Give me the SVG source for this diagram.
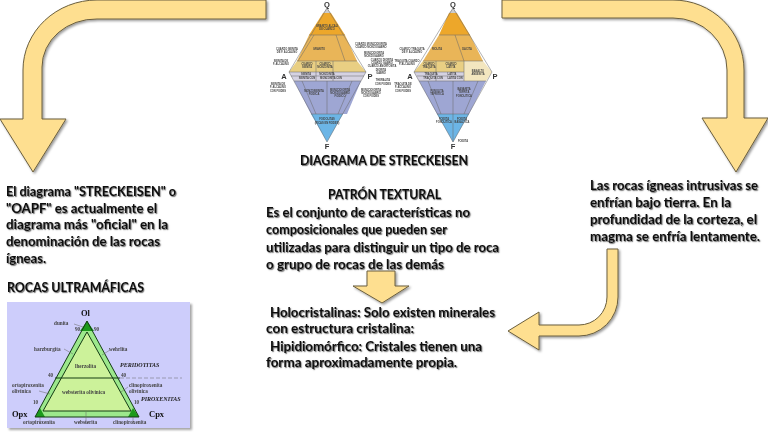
<svg xmlns="http://www.w3.org/2000/svg" width="768" height="433" viewBox="0 0 768 433">
<defs>
<filter id="sh" x="-10%" y="-10%" width="125%" height="125%"><feDropShadow dx="1.5" dy="1.5" stdDeviation="1" flood-color="#000" flood-opacity=".4"/></filter>
<filter id="soft" x="-5%" y="-5%" width="110%" height="110%"><feGaussianBlur stdDeviation=".45"/></filter>
<filter id="txt" x="-5%" y="-5%" width="110%" height="110%"><feGaussianBlur stdDeviation=".3"/></filter>
<filter id="ps" x="-5%" y="-5%" width="110%" height="110%"><feDropShadow dx="2" dy="2" stdDeviation="1" flood-color="#000" flood-opacity=".35"/></filter>
</defs>
<style>
.arrow{fill:#fedf90;stroke:#6b5f3e;stroke-width:1;filter:url(#sh)}
.t{font-family:"Lato","Liberation Sans",sans-serif;font-size:14px;font-weight:700;fill:#111;text-shadow:1px 1px 1.2px #666}
.r{font-size:13px}
.s{font-family:"Liberation Sans",sans-serif;font-size:2.6px;font-weight:700;fill:#444;text-anchor:middle}
.v{font-family:"Liberation Serif",serif;font-size:5.2px;font-weight:700;fill:#444}
.vi{font-family:"Liberation Serif",serif;font-size:6px;font-style:italic;font-weight:700;fill:#222}
.vb{font-family:"Liberation Serif",serif;font-size:8.5px;font-weight:700;fill:#111}
.q{font-family:"Liberation Sans",sans-serif;font-size:7.5px;font-weight:700;fill:#333;text-anchor:middle}
.l{stroke:#666;stroke-width:.5;fill:none}
.ol{stroke:#143c14;stroke-width:1;fill:none}
</style>
<g id="connectors">
<path id="arrow-left" class="arrow" d="M266 0V19H97A54 48 0 0 0 42 67V119H66L33 172L0 119H23V70A74 70 0 0 1 97 0Z"/>
<path id="arrow-right" class="arrow" d="M502 0V18H673A54 52 0 0 1 727 70V118H702L736 172L768 118H744V70A71 70 0 0 0 673 0Z"/>
<path id="arrow-bottom" class="arrow" d="M607 249H618V297A39 39 0 0 1 579 336H539V350L508 331L539 312V325H579A28 28 0 0 0 607 297Z"/>
<path id="arrow-mid" class="arrow" d="M367 271H395V286H409L382 303L353 286H367Z"/>
</g>
<g id="streckeisen" filter="url(#soft)">
<g id="diagram-a">
<path d="M327 8L323 13H331Z" fill="#ccc"/>
<path d="M323 13H331L345 35H309Z" fill="#eda72c"/>
<path d="M309 35H345L357 61H297Z" fill="#e9b558"/>
<path d="M297 61H357L366 72H289Z" fill="#e9cf83"/>
<path d="M289 72H366L361 81H294Z" fill="#d5d2e2"/>
<path d="M294 81H361L347 114H311Z" fill="#9ea6d3"/>
<path d="M311 114H343L327 142Z" fill="#6cb5e6"/>
<path class="l" d="M309 35H345M297 61H357M289 72H366M291 76H364M294 81H361M311 114H343M314 35L298 61M336 35L345 61M316 61V81M333 61V81M327 81V114M302 81L316 114M352 81L338 114"/>
<path class="l" d="M327 8L366 72L327 142L289 72Z"/>
<text class="s" x="327" y="27">GRANITO ALCALI</text><text class="s" x="327" y="30">DE CUARZO</text>
<text class="s" x="319" y="50">GRANITO</text>
<text class="s" x="307" y="65">CUARZO</text><text class="s" x="307" y="68">SIENITA</text>
<text class="s" x="325" y="65">CUARZO</text><text class="s" x="325" y="68">MONZONITA</text>
<text class="s" x="306" y="74.800">SIENITA</text><text class="s" x="327" y="74.800">MONZONITA</text>
<text class="s" x="307" y="79">SIENITA CON</text><text class="s" x="331" y="79">MONZONITA CON</text>
<text class="s" x="314" y="92">MONZOSIENITA</text><text class="s" x="314" y="95">FOIDICA</text>
<text class="s" x="340" y="91">MONZODIORITA</text><text class="s" x="340" y="94">MONZOGABRO</text><text class="s" x="340" y="97">FOIDICO</text>
<text class="s" x="327" y="120">FOIDOLITAS</text><text class="s" x="327" y="124">(RICAS EN FOIDES)</text>
<text class="s" x="287" y="50">CUARZO SIENITA</text><text class="s" x="287" y="53">DE F. ALCALINO</text>
<text class="s" x="281" y="62">SIENITA DE</text><text class="s" x="281" y="65">F. ALCALINO</text>
<text class="s" x="278" y="85">SIENITA DE</text><text class="s" x="278" y="88">F. ALCALINO</text><text class="s" x="278" y="92">CON FOIDES</text>
<text class="s" x="371" y="45">CUARZO MONZODIORITA</text><text class="s" x="371" y="48">CUARZO MONZOGABRO</text>
<text class="s" x="374" y="54">MONZODIORITA</text><text class="s" x="374" y="57">MONZOGABRO</text>
<text class="s" x="382" y="61">CUARZO DIORITA</text><text class="s" x="382" y="64">CUARZO GABRO</text><text class="s" x="382" y="67">CUARZO ANORTOSITA</text>
<text class="s" x="381" y="70.500">DIORITA</text><text class="s" x="381" y="73.500">GABRO</text>
<text class="s" x="383" y="81">THERALITA</text><text class="s" x="383" y="84.500">CON FOIDES</text>
<text class="s" x="371" y="91">MONZODIORITA</text><text class="s" x="371" y="94">MONZOGABRO</text><text class="s" x="371" y="97">CON FOIDES</text>
<text class="q" x="327" y="7">Q</text><text class="q" x="284" y="79">A</text><text class="q" x="370" y="79">P</text><text class="q" x="327" y="149">F</text>
</g>
<g id="diagram-b">
<path d="M453 8L449 13H457Z" fill="#ccc"/>
<path d="M449 13H457L470 35H439Z" fill="#eda72c"/>
<path d="M439 35H470L483 61H423Z" fill="#e9b558"/>
<path d="M423 61H464V72H414Z" fill="#e9cf83"/>
<path d="M464 61H483L492 72L486 81H464Z" fill="#f3e6bf"/>
<path d="M414 72H464V81H419Z" fill="#d5d2e2"/>
<path d="M419 81H486L469 114H437Z" fill="#9ea6d3"/>
<path d="M437 114H469L453 142Z" fill="#6cb5e6"/>
<path class="l" d="M439 35H470M423 61H483M414 72H464M417 76H464M419 81H486M437 114H469M455 35L464 61M436 61V81M464 61V81M453 81V114M428 81L441 114M478 81L464 114M453 114V142"/>
<path class="l" d="M453 8L492 72L453 142L414 72Z"/>
<text class="s" x="437" y="50">RIOLITA</text><text class="s" x="467" y="50">DACITA</text>
<text class="s" x="429" y="65">CUARZO</text><text class="s" x="429" y="68">TRAQUITA</text>
<text class="s" x="451" y="65">CUARZO</text><text class="s" x="451" y="68">LATITA</text>
<text class="s" x="478" y="72">BASALTO</text><text class="s" x="478" y="75">ANDESITA</text>
<text class="s" x="431" y="74.800">TRAQUITA</text><text class="s" x="452" y="74.800">LATITA</text>
<text class="s" x="433" y="79">TRAQUITA CON</text><text class="s" x="455" y="79">LATITA CON</text>
<text class="s" x="437" y="92">FONOLITA</text><text class="s" x="437" y="95">TEFRITICA</text>
<text class="s" x="464" y="90">BASANITA</text><text class="s" x="464" y="93">TEFRITA</text><text class="s" x="464" y="97">FONOLITICA</text>
<text class="s" x="444" y="120">FOIDITA</text><text class="s" x="444" y="123">FONOLITICA</text>
<text class="s" x="462" y="120">FOIDITA</text><text class="s" x="462" y="123">BASALTICA</text>
<text class="s" x="412" y="50">CUARZO TRAQUITA</text><text class="s" x="412" y="53">DE F. ALCALINO</text>
<text class="s" x="407" y="62">TRAQUITA CUARZO</text><text class="s" x="407" y="65">F. ALCALINO</text>
<text class="s" x="403" y="85">TRAQUITA DE</text><text class="s" x="403" y="88">F. ALCALINO</text><text class="s" x="403" y="92">CON FOIDES</text>
<text class="s" x="463" y="142">FOIDITA</text>
<text class="q" x="453" y="7">Q</text><text class="q" x="410" y="79">A</text><text class="q" x="495" y="79">P</text><text class="q" x="453" y="149">F</text>
</g>
</g>
<g id="texts" filter="url(#txt)">
<text class="t" x="300" y="165" textLength="168" lengthAdjust="spacingAndGlyphs">DIAGRAMA DE STRECKEISEN</text>
<text class="t" x="328" y="199" textLength="113" lengthAdjust="spacingAndGlyphs">PATRÓN TEXTURAL</text>
<text class="t" x="266" y="217" textLength="204" lengthAdjust="spacingAndGlyphs">Es el conjunto de características no</text>
<text class="t" x="266" y="234" textLength="181" lengthAdjust="spacingAndGlyphs">composicionales que pueden ser</text>
<text class="t" x="266" y="252" textLength="233" lengthAdjust="spacingAndGlyphs">utilizadas para distinguir un tipo de roca</text>
<text class="t" x="266" y="269" textLength="178" lengthAdjust="spacingAndGlyphs">o grupo de rocas de las demás</text>
<text class="t" x="270" y="317" textLength="225" lengthAdjust="spacingAndGlyphs">Holocristalinas: Solo existen minerales</text>
<text class="t" x="266" y="333" textLength="148" lengthAdjust="spacingAndGlyphs">con estructura cristalina:</text>
<text class="t" x="270" y="351" textLength="212" lengthAdjust="spacingAndGlyphs">Hipidiomórfico: Cristales tienen una</text>
<text class="t" x="266" y="367" textLength="191" lengthAdjust="spacingAndGlyphs">forma aproximadamente propia.</text>
<text class="t r" x="590" y="190" textLength="168" lengthAdjust="spacingAndGlyphs">Las rocas ígneas intrusivas se</text>
<text class="t" x="590" y="207" textLength="141" lengthAdjust="spacingAndGlyphs">enfrían bajo tierra. En la</text>
<text class="t" x="590" y="224" textLength="167" lengthAdjust="spacingAndGlyphs">profundidad de la corteza, el</text>
<text class="t" x="590" y="241" textLength="170" lengthAdjust="spacingAndGlyphs">magma se enfría lentamente.</text>
<text class="t" x="6" y="196" textLength="170" lengthAdjust="spacingAndGlyphs">El diagrama "STRECKEISEN" o</text>
<text class="t" x="6" y="213" textLength="151" lengthAdjust="spacingAndGlyphs">"OAPF" es actualmente el</text>
<text class="t" x="6" y="229" textLength="162" lengthAdjust="spacingAndGlyphs">diagrama más "oficial" en la</text>
<text class="t" x="6" y="246" textLength="154" lengthAdjust="spacingAndGlyphs">denominación de las rocas</text>
<text class="t" x="6" y="263" textLength="40" lengthAdjust="spacingAndGlyphs">ígneas.</text>
<text class="t" x="7" y="292" textLength="137" lengthAdjust="spacingAndGlyphs">ROCAS ULTRAMÁFICAS</text>
</g>
<g id="ultramafic" filter="url(#soft)">
<rect x="7" y="302" width="183" height="126" fill="#cdcdfb" filter="url(#ps)"/>
<path d="M87 321L139 417H35Z" fill="#9ce88c"/>
<path d="M87 332L131 411H43Z" fill="#ccf29a"/>
<path d="M87 321L94 331H80Z" fill="#1d9a1d"/>
<path d="M40 408L45 417H35Z" fill="#1d9a1d"/>
<path d="M133 408L139 417H128Z" fill="#1d9a1d"/>
<path class="ol" d="M87 321L139 417H35ZM87 332L131 411H43ZM55 378H120"/>
<path class="l" d="M74 324L83 327M64 349L73 354M110 350L102 355M39 391L50 394M128 387L121 392M40 417V424M86 412V424M133 417V424"/>
<path class="l" d="M120 378H182" stroke-dasharray="4 2"/>
<text class="vb" x="81" y="316">Ol</text>
<text class="vb" x="12" y="417">Opx</text><text class="vb" x="149" y="417">Cpx</text>
<text class="v" x="54" y="325">dunita</text>
<text class="v" x="75" y="331">90</text><text class="v" x="94" y="331">90</text>
<text class="v" x="34" y="351">harzburgita</text><text class="v" x="109" y="351">wehrlita</text>
<text class="v" x="75" y="368">lherzolita</text>
<text class="v" x="48" y="377">40</text><text class="v" x="121" y="377">40</text>
<text class="vi" x="120" y="367">PERIDOTITAS</text>
<text class="vi" x="141" y="401">PIROXENITAS</text>
<text class="v" x="12" y="387">ortopiroxenita</text><text class="v" x="12" y="393">olivínica</text>
<text class="v" x="129" y="387">clinopiroxenita</text><text class="v" x="129" y="393">olivínica</text>
<text class="v" x="62" y="394">websterita olivínica</text>
<text class="v" x="33" y="404">10</text><text class="v" x="134" y="404">10</text>
<text class="v" x="23" y="424">ortopiroxenita</text><text class="v" x="74" y="424">websterita</text><text class="v" x="113" y="424">clinopiroxenita</text>
</g>
</svg>
